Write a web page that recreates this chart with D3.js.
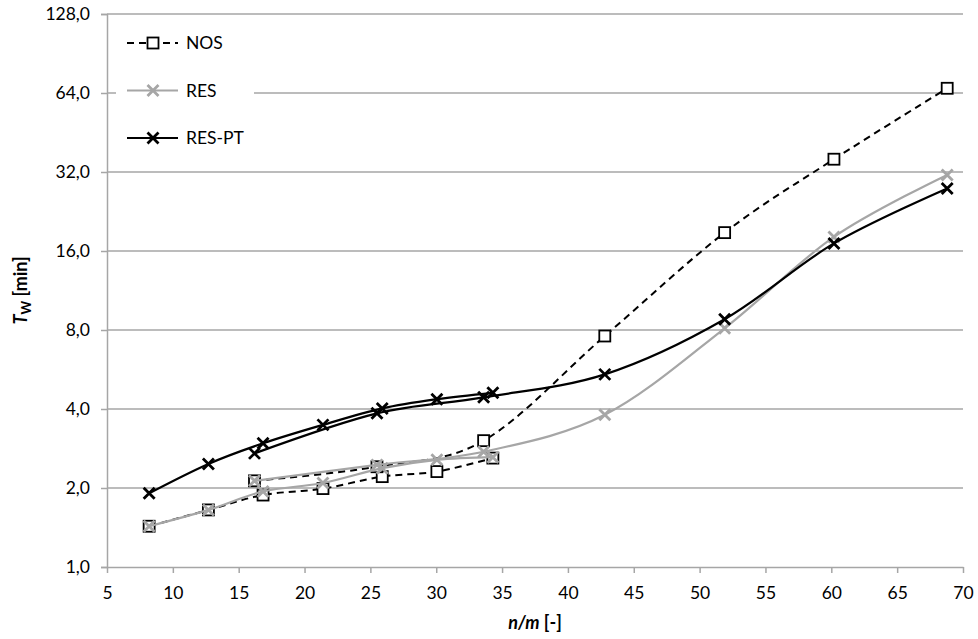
<!DOCTYPE html>
<html>
<head>
<meta charset="utf-8">
<script src="https://cdn.jsdelivr.net/npm/d3@7"></script>
<style>
    body { margin: 0; background: #fff; }
    .chart text { font-family: Lato, "Open Sans", sans-serif; fill: #000; }
</style>
</head>
<body>
<div class="chart"></div>
<script>
// n/m values of the two measurement runs (A: fine steps, B: coarse steps)
const nmA = [8.2, 12.7, 16.85, 21.4, 25.9, 30.05, 34.3];
const nmB = [16.2, 25.5, 33.6, 42.8, 51.9, 60.2, 68.8];

// T_W [min] per series and run
const nosA = [1.43, 1.65, 1.88, 1.99, 2.21, 2.31, 2.60];
const nosB = [2.13, 2.41, 3.03, 7.59, 18.8, 35.8, 66.7];
const resA = [1.43, 1.65, 1.94, 2.09, 2.38, 2.56, 2.62];
const resB = [2.13, 2.45, 2.75, 3.80, 8.12, 18.1, 31.2];
const resPtA = [1.91, 2.47, 2.96, 3.48, 4.02, 4.36, 4.61];
const resPtB = [2.71, 3.85, 4.43, 5.42, 8.79, 17.1, 27.7];

const xTicks = [5, 10, 15, 20, 25, 30, 35, 40, 45, 50, 55, 60, 65, 70];
const yTicks = [1, 2, 4, 8, 16, 32, 64, 128];
const seriesNames = ["NOS", "RES", "RES-PT"];

let width = 978, height = 639;
let margin = {top: 14, right: 15, bottom: 72, left: 107};

let svg = d3.select(".chart")
    .append("svg")
    .attr("width", width)
    .attr("height", height);

let xScale = d3.scaleLinear()
    .domain([5, 70])
    .range([margin.left, width - margin.right]);

let yScale = d3.scaleLog()
    .base(2)
    .domain([1, 128])
    .range([height - margin.bottom, margin.top]);

let gridColor = "#a6a6a6";

// horizontal gridlines
svg.append("g")
    .selectAll("line")
    .data(yTicks.slice(1))
    .enter().append("line")
    .attr("x1", margin.left)
    .attr("x2", width - margin.right)
    .attr("y1", d => yScale(d))
    .attr("y2", d => yScale(d))
    .attr("stroke", gridColor)
    .attr("stroke-width", 1.5);

// y axis
let yAxis = svg.append("g")
    .attr("transform", "translate(" + margin.left + ",0)")
    .call(d3.axisLeft(yScale)
        .tickValues(yTicks)
        .tickSize(6)
        .tickPadding(11)
        .tickFormat(d => d3.format(".1f")(d).replace(".", ",")));
yAxis.select(".domain").attr("stroke", gridColor).attr("stroke-width", 1.5);
yAxis.selectAll(".tick line").attr("stroke", gridColor).attr("stroke-width", 1.5);
yAxis.selectAll("text").style("font-size", "17.5px");

// x axis
let xAxis = svg.append("g")
    .attr("transform", "translate(0," + (height - margin.bottom) + ")")
    .call(d3.axisBottom(xScale)
        .tickValues(xTicks)
        .tickSize(6)
        .tickPadding(14)
        .tickSizeOuter(0));
xAxis.select(".domain").attr("stroke", gridColor).attr("stroke-width", 1.5);
xAxis.selectAll(".tick line").attr("stroke", gridColor).attr("stroke-width", 1.5);
xAxis.selectAll("text").style("font-size", "17.5px");

// axis titles
let xTitle = svg.append("text")
    .attr("x", (margin.left + width - margin.right) / 2)
    .attr("y", 629)
    .attr("text-anchor", "middle")
    .style("font-size", "18px")
    .style("font-weight", "bold");
xTitle.append("tspan").style("font-style", "italic").text("n/m");
xTitle.append("tspan").text(" [-]");

let yTitle = svg.append("text")
    .attr("transform", "translate(27," + ((margin.top + height - margin.bottom) / 2) + ") rotate(-90)")
    .attr("text-anchor", "middle")
    .style("font-size", "18px")
    .style("font-weight", "bold");
yTitle.append("tspan").style("font-style", "italic").text("T");
yTitle.append("tspan").attr("dy", 4).style("font-size", "13px").text("W");
yTitle.append("tspan").attr("dy", -4).text(" [min]");

// series styles
let styles = {
    "NOS":    {color: "#000", width: 2, dash: "7,5", marker: "square"},
    "RES":    {color: "#a6a6a6", width: 2.2, dash: null, marker: "cross"},
    "RES-PT": {color: "#000", width: 2.2, dash: null, marker: "cross"}
};

let runs = [
    {name: "NOS", x: nmA, y: nosA},
    {name: "NOS", x: nmB, y: nosB},
    {name: "RES", x: nmA, y: resA},
    {name: "RES", x: nmB, y: resB},
    {name: "RES-PT", x: nmA, y: resPtA},
    {name: "RES-PT", x: nmB, y: resPtB}
];

let line = d3.line()
    .x(d => xScale(d[0]))
    .y(d => yScale(d[1]))
    .curve(d3.curveCardinal.tension(0));

function drawMarker(g, kind, color, cx, cy) {
    if (kind === "square") {
        g.append("rect")
            .attr("x", cx - 5.5).attr("y", cy - 5.5)
            .attr("width", 11).attr("height", 11)
            .attr("fill", "#fff")
            .attr("stroke", color)
            .attr("stroke-width", 1.8);
    } else {
        g.append("path")
            .attr("d", "M" + (cx - 5.5) + "," + (cy - 5.5) + "L" + (cx + 5.5) + "," + (cy + 5.5) +
                       "M" + (cx - 5.5) + "," + (cy + 5.5) + "L" + (cx + 5.5) + "," + (cy - 5.5))
            .attr("stroke", color)
            .attr("stroke-width", 2.8)
            .attr("fill", "none");
    }
}

seriesNames.forEach(name => {
    let st = styles[name];
    let g = svg.append("g").attr("class", "series");
    runs.filter(r => r.name === name).forEach(r => {
        let pts = r.x.map((v, i) => [v, r.y[i]]);
        g.append("path")
            .attr("d", line(pts))
            .attr("fill", "none")
            .attr("stroke", st.color)
            .attr("stroke-width", st.width)
            .attr("stroke-dasharray", st.dash);
    });
    runs.filter(r => r.name === name).forEach(r => {
        r.x.forEach((v, i) => drawMarker(g, st.marker, st.color, xScale(v), yScale(r.y[i])));
    });
});

// legend
let legend = svg.append("g").attr("class", "legend");
legend.append("rect")
    .attr("x", 116).attr("y", 20)
    .attr("width", 138).attr("height", 145)
    .attr("fill", "#fff");

seriesNames.forEach((name, i) => {
    let st = styles[name];
    let ly = 43 + i * 47.5;
    legend.append("line")
        .attr("x1", 127).attr("x2", 178)
        .attr("y1", ly).attr("y2", ly)
        .attr("stroke", st.color)
        .attr("stroke-width", st.width)
        .attr("stroke-dasharray", st.dash);
    drawMarker(legend, st.marker, st.color, 153, ly);
    legend.append("text")
        .attr("x", 186).attr("y", ly)
        .attr("dy", "0.35em")
        .style("font-size", "17.5px")
        .text(name);
});
</script>
</body>
</html>
